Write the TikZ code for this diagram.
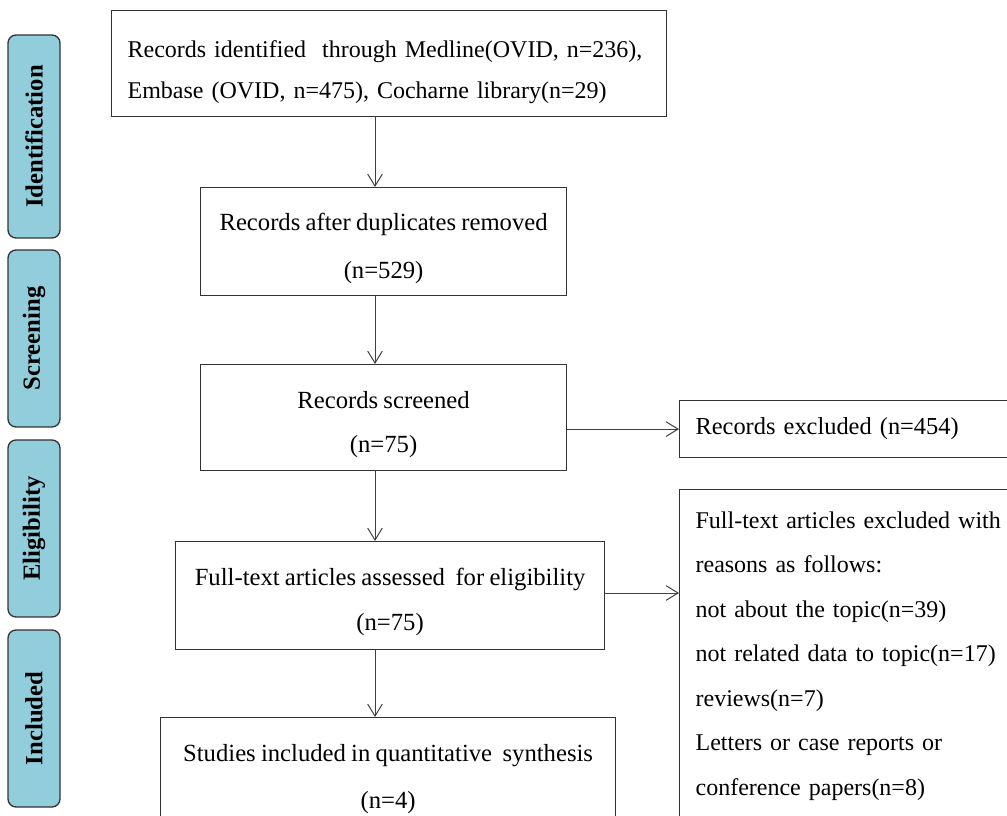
\documentclass[tikz,border=0pt]{standalone}
\usepackage{fontspec}
\setmainfont[WordSpace=0.6]{Liberation Serif}
\newfontfamily\cfont[WordSpace=0.85]{Liberation Serif}
\usetikzlibrary{arrows.meta}
\definecolor{phasefill}{HTML}{92CDDC}
\definecolor{edgecol}{HTML}{333333}
\definecolor{arrcol}{HTML}{404040}
\newcommand\myTopStrut[1]{\rule{0pt}{#1}}
\begin{document}
\begin{tikzpicture}[x=0.75pt,y=-0.75pt,
  box/.style={draw=edgecol, line width=0.9pt, inner sep=0pt, anchor=north west, align=center},
  lbox/.style={draw=edgecol, line width=0.9pt, inner xsep=12pt, inner ysep=0pt, anchor=north west, align=left},
  phase/.style={draw=edgecol, fill=phasefill, line width=1pt, rounded corners=6pt, rotate=90,
    minimum height=39pt, inner sep=0pt, font=\fontsize{18.5}{22}\selectfont\bfseries},
  arr/.style={draw=arrcol, line width=0.75pt, -{Straight Barb[length=9pt,width=11pt,line width=0.75pt]}}
]
\useasboundingbox (0,0) rectangle (1007,816);
\clip (0,0) rectangle (1007,816);
% phase labels
\node[phase, minimum width=152.25pt] (pid) at (34,136.5) {Identification};
\node[phase, minimum width=132.75pt] (psc) at (34,338.5) {Screening};
\node[phase, minimum width=132.75pt] (pel) at (34,528.5) {Eligibility};
\node[phase, minimum width=132.75pt] (pin) at (34,718.5) {Included};
% main boxes
\node[lbox, text width=392.25pt, minimum height=79.5pt, font=\fontsize{18}{30.75}\selectfont] (b1) at (111,10)
  {\myTopStrut{25pt}\mbox{Records identified\ \ through Medline(OVID, n=236),}\\\mbox{Embase (OVID, n=475), Cocharne library(n=29)}};
\node[box, minimum width=274.5pt, minimum height=81pt, font=\cfont\fontsize{18.5}{36}\selectfont] (b2) at (200,187)
  {\myTopStrut{23pt}Records after duplicates removed\\(n=529)};
\node[box, minimum width=274.5pt, minimum height=79.5pt, font=\cfont\fontsize{18.5}{33}\selectfont] (b3) at (200,364)
  {\myTopStrut{23pt}Records screened\\(n=75)};
\node[box, minimum width=321.75pt, minimum height=81pt, font=\cfont\fontsize{18.5}{33.75}\selectfont] (b4) at (175,541)
  {\myTopStrut{23pt}Full-text articles assessed\ \ for eligibility\\(n=75)};
\node[box, minimum width=341.25pt, minimum height=84.75pt, font=\cfont\fontsize{18.5}{35.25}\selectfont] (b5) at (160,717)
  {\myTopStrut{20pt}Studies included in quantitative\ \ synthesis\\(n=4)};
% right boxes (their right edges lie beyond the page)
\node[lbox, text width=300pt, minimum height=42.75pt, font=\fontsize{18.3}{33}\selectfont] (r1) at (679,400)
  {Records excluded (n=454)};
\node[lbox, text width=300pt, minimum height=249.75pt, font=\fontsize{18}{33.4}\selectfont] (r2) at (679,489)
  {Full-text articles excluded with\\reasons as follows:\\not about the topic(n=39)\\not related data to topic(n=17)\\reviews(n=7)\\Letters or case reports or\\conference papers(n=8)};
% connectors
\coordinate (ax) at (375,0);
\draw[arr] (b1.south -| ax) -- (b2.north -| ax);
\draw[arr] (b2.south -| ax) -- (b3.north -| ax);
\draw[arr] (b3.south -| ax) -- (b4.north -| ax);
\draw[arr] (b4.south -| ax) -- (b5.north -| ax);
\draw[arr] (b3.east |- r1.west) -- (r1.west);
\coordinate (ay) at (0,593);
\draw[arr] (b4.east |- ay) -- (r2.west |- ay);
\end{tikzpicture}
\end{document}
